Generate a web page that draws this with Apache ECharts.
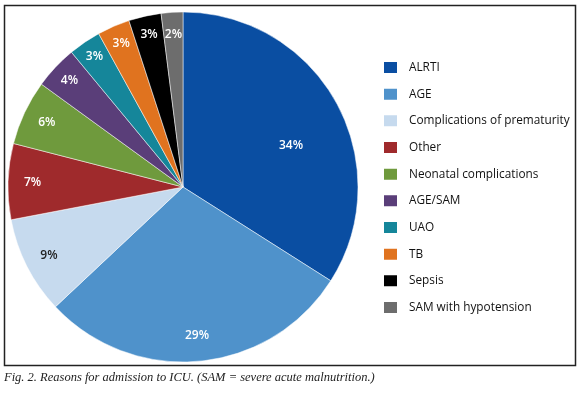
<!DOCTYPE html>
<html>
<head>
<meta charset="utf-8">
<script src="https://cdn.jsdelivr.net/npm/echarts@6/dist/echarts.min.js"></script>
<style>
html,body{margin:0;padding:0;background:#fff;}
#chart{width:580px;height:396px;}
</style>
</head>
<body>
<div id="chart"></div>
<script>
var categories = ['ALRTI', 'AGE', 'Complications of prematurity', 'Other', 'Neonatal complications', 'AGE/SAM', 'UAO', 'TB', 'Sepsis', 'SAM with hypotension'];
var values = [34, 29, 9, 7, 6, 4, 3, 3, 3, 2];
var colors = ['#0a4ea2', '#4f92cb', '#c6daee', '#9f2a2c', '#6f9a3d', '#5a3e79', '#15869a', '#e0731f', '#000000', '#6d6d6d'];
var labelColors = ['#fff', '#fff', '#222', '#fff', '#fff', '#fff', '#fff', '#fff', '#fff', '#fff'];
var labelRadius = [0.66, 0.85, 0.86, 0.86, 0.86, 0.89, 0.9, 0.89, 0.89, 0.875];
var labelAngleShift = [8, 0, 0, 0, 0, 0, 0, 0, 0, 0];
var caption = 'Fig. 2. Reasons for admission to ICU. (SAM = severe acute malnutrition.)';

var CX = 183, CY = 187, R = 175;
var total = values.reduce(function(a, b){ return a + b; }, 0);

var chart = echarts.init(document.getElementById('chart'), null, {renderer: 'canvas'});
chart.setOption({
  animation: false,
  backgroundColor: '#fff',
  graphic: [
    {type: 'rect', shape: {x: 4.5, y: 5.5, width: 571, height: 360}, style: {fill: 'none', stroke: '#222', lineWidth: 1.5}, z: 0},
    {type: 'text', left: 4, top: 371, style: {text: caption, font: 'italic 12.5px "Liberation Serif", serif', fill: '#222'}}
  ],
  legend: {
    orient: 'vertical',
    left: 382,
    top: 60,
    padding: 0,
    icon: 'rect',
    itemWidth: 15,
    itemHeight: 13,
    itemGap: 11.67,
    selectedMode: false,
    data: categories,
    textStyle: {fontFamily: '"Open Sans"', fontSize: 11.8, color: '#111', lineHeight: 13, padding: [0, 0, 0, 6]}
  },
  series: [{
    type: 'pie',
    center: [CX, CY],
    radius: R,
    startAngle: 90,
    clockwise: true,
    avoidLabelOverlap: false,
    minAngle: 0,
    emphasis: {disabled: true},
    itemStyle: {borderColor: '#fff', borderWidth: 0.5},
    label: {
      show: true,
      position: 'inside',
      formatter: function(p){ return p.value + '%'; },
      fontFamily: '"Open Sans"',
      fontSize: 12,
      fontWeight: 600
    },
    labelLine: {show: false},
    labelLayout: function(params){
      var i = params.dataIndex;
      var cum = 0;
      for (var k = 0; k < i; k++) cum += values[k];
      var mid = (cum + values[i] / 2) / total * 360 + labelAngleShift[i];
      var a = mid * Math.PI / 180;
      var d = R * labelRadius[i];
      return {x: CX + d * Math.sin(a), y: CY - d * Math.cos(a), align: 'center', verticalAlign: 'middle'};
    },
    data: categories.map(function(c, i){
      return {name: c, value: values[i], itemStyle: {color: colors[i]}, label: {color: labelColors[i]}};
    })
  }]
});
</script>
</body>
</html>
